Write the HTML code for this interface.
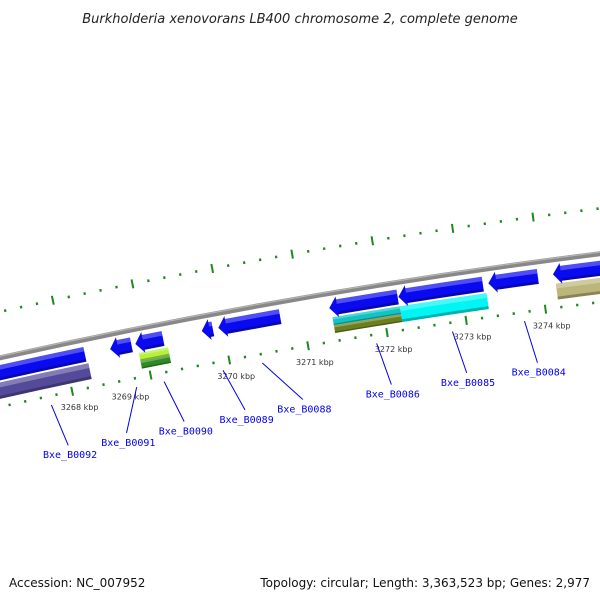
<!DOCTYPE html>
<html><head><meta charset="utf-8"><style>
html,body{margin:0;padding:0;background:#fff;}
svg{display:block;}
</style></head><body>
<svg id="map" width="600" height="600" viewBox="0 0 600 600" xmlns="http://www.w3.org/2000/svg">
<rect x="0" y="0" width="600" height="600" fill="#fff"/>
<text x="300" y="23" text-anchor="middle" font-family="'DejaVu Sans', 'Liberation Sans', sans-serif" font-style="italic" font-size="13" fill="#222">Burkholderia xenovorans LB400 chromosome 2, complete genome</text>
<g id="ticks"></g>
<g id="backbone"></g>
<g id="features"></g>
<g id="labels"></g>
<text x="9" y="587" font-family="'DejaVu Sans', 'Liberation Sans', sans-serif" font-size="12" fill="#111">Accession: NC_007952</text>
<text x="590" y="587" text-anchor="end" font-family="'DejaVu Sans', 'Liberation Sans', sans-serif" font-size="12" fill="#111">Topology: circular; Length: 3,363,523 bp; Genes: 2,977</text>
</svg>
<script>
// ---- data ----
const tickKbp = [3267, 3268, 3269, 3270, 3271, 3272, 3273, 3274, 3275];
const tickLabels = ["3268 kbp","3269 kbp","3270 kbp","3271 kbp","3272 kbp","3273 kbp","3274 kbp"];
const tickLabelKbp = [3268, 3269, 3270, 3271, 3272, 3273, 3274];
const tickLabelNudge = [0.05, -0.3, 0.05, 0.05, 0.05, 0.05, 0.05];
// reverse-strand CDS (arrow pointing left)
const cdsStart = [3266.3, 3268.57, 3268.89, 3269.73, 3269.94, 3271.34, 3272.21, 3273.34, 3274.15];
const cdsEnd   = [3268.25, 3268.84, 3269.24, 3269.87, 3270.72, 3272.20, 3273.27, 3273.96, 3275.6];
const cdsHead  = [false, true, true, true, true, true, true, true, true];
// other feature rings
const featStart = [3266.3, 3268.91, 3271.36, 3272.21, 3274.17];
const featEnd   = [3268.27, 3269.28, 3272.21, 3273.30, 3275.6];
const featColorTop = ["#544a9a", "#b4f23a", "#10c4c4", "#00f5f5", "#bdb67a"];
const featColorBot = ["#544a9a", "#2e8b22", "#6b7f1e", "#00f5f5", "#bdb67a"];
const featSplit = [false, true, true, false, false];
const featName = ["feature-lavender", "feature-yellowgreen", "feature-cyan-left", "feature-cyan-right", "feature-khaki"];
// gene labels
const geneNames = ["Bxe_B0092","Bxe_B0091","Bxe_B0090","Bxe_B0089","Bxe_B0088","Bxe_B0086","Bxe_B0085","Bxe_B0084"];
const geneLineKbp = [3267.71, 3268.80, 3269.15, 3269.90, 3270.40, 3271.85, 3272.81, 3273.72];
const geneLabelKbp = [3267.81, 3268.56, 3269.30, 3270.08, 3270.82, 3271.95, 3272.91, 3273.81];

// ---- geometry ----
const NS = "http://www.w3.org/2000/svg";
const CX = 1398, CY = 6633, R0 = 6429;
const TH0 = -1.7801, K = 0.01255;
function th(k){ return TH0 + (k - 3268) * K; }
function pt(k, r){ const a = th(k); return [CX + r*Math.cos(a), CY + r*Math.sin(a)]; }
function f(n){ return n.toFixed(2); }
function band(k1, k2, r1, r2){ // r1 outer, r2 inner
  const a = pt(k1, r1), b = pt(k2, r1), c = pt(k2, r2), d = pt(k1, r2);
  return `M${f(a[0])},${f(a[1])} A${r1},${r1} 0 0 1 ${f(b[0])},${f(b[1])} L${f(c[0])},${f(c[1])} A${r2},${r2} 0 0 0 ${f(d[0])},${f(d[1])} Z`;
}
function mk(tag, attrs, parent){
  const el = document.createElementNS(NS, tag);
  for (const k in attrs) el.setAttribute(k, attrs[k]);
  parent.appendChild(el);
  return el;
}
const gT = document.getElementById('ticks');
const gB = document.getElementById('backbone');
const gF = document.getElementById('features');
const gL = document.getElementById('labels');

// ticks: inner ring r=6381 (ticks pointing in), outer ring r=6474
const kmin = tickKbp[0], kmax = tickKbp[tickKbp.length-1];
for (let i = 0; Math.round((kmin + i*0.2)*10)/10 <= kmax; i++){
  const k = Math.round((kmin + i*0.2)*10)/10;
  const major = Math.abs(k - Math.round(k)) < 1e-6;
  [[6381, 1], [6474, 1]].forEach(([r]) => {
    const len = major ? 4.5 : 1.3;
    const p1 = pt(k, r + len), p2 = pt(k, r - len);
    const ln = mk('line', {x1:f(p1[0]), y1:f(p1[1]), x2:f(p2[0]), y2:f(p2[1]), stroke:'#1c8a1c', 'stroke-width': major ? 2 : 2.2}, gT);
    
    
  });
}
tickLabels.forEach((t, i) => {
  const p = pt(tickLabelKbp[i] + tickLabelNudge[i], 6364);
  const tx = mk('text', {x:f(p[0]), y:f(p[1]+3), 'text-anchor':'middle', 'font-family':"'DejaVu Sans', 'Liberation Sans', sans-serif", 'font-size':'8', fill:'#333'}, gT);
  tx.textContent = t;
  
  
});

// backbone
{
  const p1 = pt(3266, R0), p2 = pt(3276, R0);
  const bb = mk('path', {d:`M${f(p1[0])},${f(p1[1])} A${R0},${R0} 0 0 1 ${f(p2[0])},${f(p2[1])}`, fill:'none', stroke:'#888', 'stroke-width':5}, gB);
  
  
  const q1 = pt(3266, R0+1.5), q2 = pt(3276, R0+1.5);
  const hl = mk('path', {d:`M${f(q1[0])},${f(q1[1])} A${R0},${R0} 0 0 1 ${f(q2[0])},${f(q2[1])}`, fill:'none', stroke:'#b5b5b5', 'stroke-width':1.2}, gB);
  
  
}

// ring radii
const RB1 = R0 - 7, RB2 = R0 - 22;      // blue CDS ring
const R21 = R0 - 24, R22 = R0 - 32, R23 = R0 - 40; // ring2/ring3

function shade(k1, k2, r1, r2){
  const h = (r1 - r2);
  const top = mk('path', {d: band(k1, k2, r1, r1 - h*0.3), fill:'#fff', 'fill-opacity':0.28}, gF);
  
  
  const bot = mk('path', {d: band(k1, k2, r2 + h*0.18, r2), fill:'#000', 'fill-opacity':0.28}, gF);
  
  
}

// other features
featStart.forEach((s, i) => {
  const e = featEnd[i];
  if (featSplit[i]) {
    const a = mk('path', {d: band(s, e, R21, R22), fill: featColorTop[i]}, gF);
    
    
    shade(s, e, R21, R22);
    const b = mk('path', {d: band(s, e, R22, R23), fill: featColorBot[i]}, gF);
    
    
    shade(s, e, R22, R23);
  } else {
    const a = mk('path', {d: band(s, e, R21, R23), fill: featColorTop[i]}, gF);
    
    
    shade(s, e, R21, R23);
  }
});

// blue CDS arrows
cdsStart.forEach((s, i) => {
  const e = cdsEnd[i];
  let d;
  if (cdsHead[i]) {
    const hk = Math.min(0.1, (e - s));
    const hb = s + hk;
    const rm = (RB1 + RB2) / 2;
    const tip = pt(s, rm);
    const o1 = pt(hb, RB1 + 3), o2 = pt(hb, RB2 - 3);
    const a = pt(hb, RB1), b = pt(e, RB1), c = pt(e, RB2), dd = pt(hb, RB2);
    if (e - hb < 0.01) {
      d = `M${f(tip[0])},${f(tip[1])} L${f(o1[0])},${f(o1[1])} L${f(o2[0])},${f(o2[1])} Z`;
    } else {
      d = `M${f(tip[0])},${f(tip[1])} L${f(o1[0])},${f(o1[1])} L${f(a[0])},${f(a[1])} A${RB1},${RB1} 0 0 1 ${f(b[0])},${f(b[1])} L${f(c[0])},${f(c[1])} A${RB2},${RB2} 0 0 0 ${f(dd[0])},${f(dd[1])} L${f(o2[0])},${f(o2[1])} Z`;
    }
  } else {
    d = band(s, e, RB1, RB2);
  }
  const p = mk('path', {d: d, fill:'#0a0af0'}, gF);
  
  
  const sh = Math.min(e, s + 0.1);
  shade(cdsHead[i] ? sh : s, e, RB1, RB2);
});

// gene labels
geneNames.forEach((n, i) => {
  const a = pt(geneLineKbp[i], 6372), b = pt(geneLabelKbp[i], 6329);
  const ln = mk('line', {x1:f(a[0]), y1:f(a[1]), x2:f(b[0]), y2:f(b[1]), stroke:'#0000ee', 'stroke-width':1}, gL);
  
  
  const c = pt(geneLabelKbp[i], 6320);
  const tx = mk('text', {x:f(c[0]), y:f(c[1]+4), 'text-anchor':'middle', 'font-family':"'DejaVu Sans Mono', 'Liberation Mono', monospace", 'font-size':'10', fill:'#0000ee'}, gL);
  tx.textContent = n;
  
  
});
</script>
</body></html>
